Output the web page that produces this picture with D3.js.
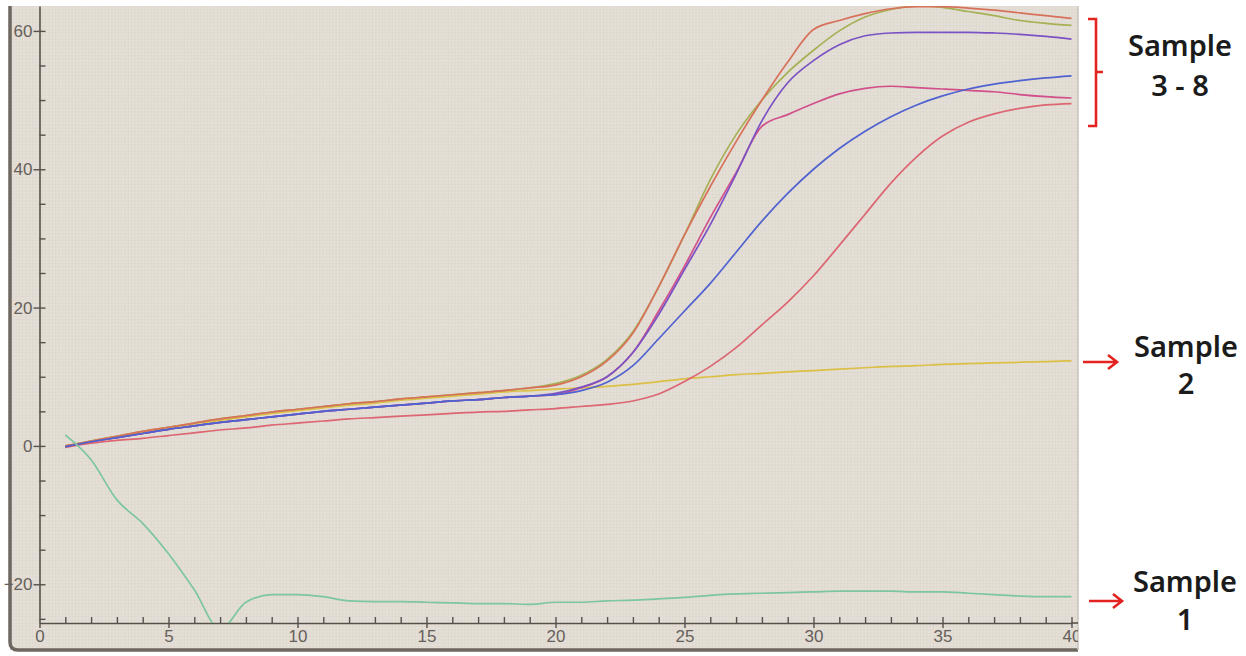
<!DOCTYPE html>
<html>
<head>
<meta charset="utf-8">
<script src="https://cdn.jsdelivr.net/npm/d3@7"></script>
<style>
  html, body { margin: 0; padding: 0; background: #ffffff; }
  svg { display: block; }
</style>
</head>
<body>
<svg id="chart" width="1246" height="656"></svg>
<script>
// ---------------- DATA ----------------
const cycles = d3.range(1, 41);
const yTickLabels = [-20, 0, 20, 40, 60];
const yMinorTicks = [-25, -20, -15, -10, -5, 0, 5, 10, 15, 20, 25, 30, 35, 40, 45, 50, 55, 60];
const xTickLabels = [0, 5, 10, 15, 20, 25, 30, 35, 40];
const xMinorTicks = d3.range(1, 41);

// Sample 1 (green, negative)
const sample1 = [1.6, -2.0, -7.8, -11.2, -15.6, -20.8, -26.5, -22.6, -21.5, -21.5,
  -21.8, -22.4, -22.5, -22.5, -22.6, -22.7, -22.8, -22.8, -22.9, -22.6,
  -22.6, -22.4, -22.3, -22.1, -21.9, -21.6, -21.4, -21.3, -21.2, -21.1,
  -21.0, -21.0, -21.0, -21.1, -21.1, -21.3, -21.5, -21.7, -21.8, -21.8];
// Sample 2 (yellow, weak linear)
const sample2 = [0, 0.7, 1.4, 2.0, 2.6, 3.2, 3.7, 4.2, 4.7, 5.1,
  5.5, 5.9, 6.2, 6.6, 6.9, 7.2, 7.5, 7.8, 8.0, 8.2,
  8.4, 8.6, 8.9, 9.3, 9.7, 10.0, 10.3, 10.5, 10.7, 10.9,
  11.1, 11.3, 11.5, 11.6, 11.8, 11.9, 12.0, 12.1, 12.2, 12.3];
// Samples 3 - 8
const sampleRed = [0, 0.7, 1.4, 2.1, 2.7, 3.3, 3.9, 4.4, 4.9, 5.3,
  5.7, 6.1, 6.4, 6.8, 7.1, 7.4, 7.7, 8.0, 8.4, 8.8,
  10.0, 12.3, 16.3, 23.0, 30.5, 37.5, 44.0, 50.0, 55.5, 60.2,
  61.5, 62.5, 63.2, 63.5, 63.5, 63.3, 63.0, 62.6, 62.2, 61.8];
const sampleOlive = [0, 0.7, 1.4, 2.1, 2.7, 3.3, 3.9, 4.4, 4.9, 5.3,
  5.7, 6.1, 6.4, 6.8, 7.1, 7.4, 7.7, 8.0, 8.4, 9.0,
  10.2, 12.5, 16.5, 23.0, 30.5, 38.5, 45.0, 50.0, 54.0, 57.2,
  60.0, 62.0, 63.1, 63.6, 63.4, 62.8, 62.2, 61.5, 61.1, 60.8];
const samplePurple = [-0.1, 0.6, 1.2, 1.8, 2.4, 2.9, 3.4, 3.8, 4.2, 4.6,
  5.0, 5.3, 5.6, 5.9, 6.2, 6.5, 6.7, 7.0, 7.2, 7.6,
  8.5, 10.0, 13.5, 19.0, 25.5, 32.0, 39.3, 47.0, 52.5, 55.7,
  58.0, 59.3, 59.7, 59.8, 59.8, 59.8, 59.7, 59.5, 59.2, 58.8];
const sampleMagenta = [-0.1, 0.6, 1.2, 1.8, 2.4, 2.9, 3.4, 3.8, 4.2, 4.6,
  5.0, 5.3, 5.6, 5.9, 6.2, 6.5, 6.7, 7.0, 7.2, 7.4,
  8.4, 10.0, 13.5, 19.5, 26.0, 33.0, 39.5, 46.2, 47.9, 49.5,
  50.9, 51.7, 52.0, 51.8, 51.6, 51.4, 51.2, 50.8, 50.5, 50.3];
const sampleBlue = [-0.1, 0.6, 1.2, 1.8, 2.4, 2.9, 3.4, 3.8, 4.2, 4.6,
  5.0, 5.3, 5.6, 5.9, 6.2, 6.5, 6.7, 7.0, 7.2, 7.4,
  8.0, 9.2, 11.6, 15.5, 19.5, 23.5, 28.0, 32.5, 36.5, 40.0,
  43.0, 45.5, 47.6, 49.3, 50.6, 51.6, 52.3, 52.8, 53.2, 53.5];
const sampleSalmon = [-0.2, 0.4, 0.8, 1.1, 1.5, 1.9, 2.3, 2.6, 3.0, 3.3,
  3.6, 3.9, 4.1, 4.3, 4.5, 4.7, 4.9, 5.0, 5.2, 5.4,
  5.7, 6.0, 6.5, 7.5, 9.3, 11.5, 14.2, 17.5, 20.8, 24.6,
  29.0, 33.5, 38.0, 41.8, 44.8, 46.8, 48.0, 48.8, 49.3, 49.5];

const seriesNames = ["Sample 2", "Salmon", "Magenta", "Purple", "Olive", "Red", "Blue", "Sample 1"];
const seriesValues = [sample2, sampleSalmon, sampleMagenta, samplePurple, sampleOlive, sampleRed, sampleBlue, sample1];
const seriesColors = ["#dcc046", "#dc6672", "#d2508a", "#7a52c4", "#a6b054", "#d8715a", "#4f62cf", "#7cc6a0"];

// ---------------- LAYOUT ----------------
const svg = d3.select("#chart");
const screen = { left: 10, top: 6, right: 1078, bottom: 650 };
const plot = { left: 39.5, top: 6, right: 1071.5, bottom: 623 };

const x = d3.scaleLinear().domain([0, 40]).range([plot.left, plot.right]);
const y = d3.scaleLinear().domain([-25.6, 63.6]).range([plot.bottom, plot.top]);

const defs = svg.append("defs");
defs.append("clipPath").attr("id", "screenClip")
  .append("rect").attr("x", 0).attr("y", screen.top)
  .attr("width", screen.right).attr("height", screen.bottom - screen.top);
defs.append("clipPath").attr("id", "plotClip")
  .append("rect").attr("x", plot.left).attr("y", plot.top)
  .attr("width", screen.right - plot.left).attr("height", plot.bottom - plot.top);

// LCD pixel texture
const pat = defs.append("pattern").attr("id", "lcd").attr("width", 3.3).attr("height", 3.3)
  .attr("patternUnits", "userSpaceOnUse");
pat.append("rect").attr("width", 3.3).attr("height", 3.3).attr("fill", "#e4dfd7");
pat.append("path").attr("d", "M3.3,0V3.3M0,3.3H3.3").attr("stroke", "#d4cdc4").attr("stroke-width", 0.6).attr("fill", "none");

// screen background
svg.append("rect")
  .attr("x", screen.left).attr("y", screen.top)
  .attr("width", screen.right - screen.left).attr("height", screen.bottom - screen.top)
  .attr("fill", "url(#lcd)");

// screen bezel (left and bottom)
svg.append("path")
  .attr("d", `M${screen.left},${screen.top} V${screen.bottom - 8} Q${screen.left},${screen.bottom} ${screen.left + 8},${screen.bottom} H${screen.right}`)
  .attr("fill", "none").attr("stroke", "#6e6760").attr("stroke-width", 3.5);
svg.append("line")
  .attr("x1", screen.right).attr("x2", screen.right).attr("y1", screen.top).attr("y2", screen.bottom)
  .attr("stroke", "#c9c2ba").attr("stroke-width", 1.5);

const g = svg.append("g").attr("clip-path", "url(#screenClip)");

// ---------------- AXES ----------------
const axisColor = "#57514b";
const labelFont = "'Liberation Sans', Arial, sans-serif";
const labelColor = "#66605a";

// y minor (inside) ticks
g.append("g").attr("transform", `translate(${plot.left},0)`)
  .call(d3.axisRight(y).tickValues(yMinorTicks).tickSize(6).tickFormat(""))
  .call(s => s.select(".domain").remove())
  .call(s => s.selectAll("line").attr("stroke", axisColor).attr("stroke-width", 1.4));
// y major ticks + labels
g.append("g").attr("transform", `translate(${plot.left},0)`)
  .call(d3.axisLeft(y).tickValues(yTickLabels).tickSizeInner(6).tickSizeOuter(0).tickPadding(1))
  .call(s => s.select(".domain").attr("stroke", axisColor).attr("stroke-width", 1.6))
  .call(s => s.selectAll("line").attr("stroke", axisColor).attr("stroke-width", 1.4))
  .call(s => s.selectAll("text").attr("fill", labelColor).attr("font-size", 17).attr("font-family", labelFont));

// x minor (inside) ticks
g.append("g").attr("transform", `translate(0,${plot.bottom})`)
  .call(d3.axisTop(x).tickValues(xMinorTicks).tickSize(6).tickFormat(""))
  .call(s => s.select(".domain").remove())
  .call(s => s.selectAll("line").attr("stroke", axisColor).attr("stroke-width", 1.4));
// x major ticks + labels
g.append("g").attr("transform", `translate(0,${plot.bottom})`)
  .call(d3.axisBottom(x).tickValues(xTickLabels).tickSizeInner(5).tickSizeOuter(0).tickPadding(2))
  .call(s => s.select(".domain").attr("stroke", axisColor).attr("stroke-width", 1.6))
  .call(s => s.selectAll("line").attr("stroke", axisColor).attr("stroke-width", 1.4))
  .call(s => s.selectAll("text").attr("fill", labelColor).attr("font-size", 17).attr("font-family", labelFont));
// extend x axis line to the screen edge
g.append("line")
  .attr("x1", x(40)).attr("x2", screen.right).attr("y1", plot.bottom).attr("y2", plot.bottom)
  .attr("stroke", axisColor).attr("stroke-width", 1.6);

// ---------------- LINES ----------------
const line = d3.line().x((d, i) => x(cycles[i])).y(d => y(d)).curve(d3.curveMonotoneX);
const lines = svg.append("g").attr("clip-path", "url(#plotClip)");
seriesValues.forEach((vals, k) => {
  lines.append("path")
    .datum(vals)
    .attr("d", line)
    .attr("fill", "none")
    .attr("stroke", seriesColors[k])
    .attr("stroke-width", 1.7)
    .attr("stroke-linejoin", "round")
    .attr("data-name", seriesNames[k]);
});

// ---------------- ANNOTATIONS ----------------
const red = "#e3231f";
const annFont = "'Noto Sans', 'Open Sans', sans-serif";
const ann = svg.append("g");

// bracket for samples 3-8
ann.append("path")
  .attr("d", "M1088,19 H1096 V126 H1088 M1096,72 H1103")
  .attr("fill", "none").attr("stroke", red).attr("stroke-width", 2.6);

function arrow(x1, x2, yy) {
  ann.append("path")
    .attr("d", `M${x1},${yy} H${x2} M${x2 - 9},${yy - 7} L${x2},${yy} L${x2 - 9},${yy + 7}`)
    .attr("fill", "none").attr("stroke", red).attr("stroke-width", 2.6)
    .attr("stroke-linejoin", "miter");
}
arrow(1083, 1117, 362);
arrow(1089, 1122, 601);

function label(cx, lines, yCenters) {
  lines.forEach((t, i) => {
    ann.append("text")
      .attr("x", cx).attr("y", yCenters[i])
      .attr("text-anchor", "middle").attr("dominant-baseline", "central")
      .attr("font-family", annFont).attr("font-weight", 600).attr("font-size", 29)
      .attr("fill", "#1b1b1b")
      .text(t);
  });
}
label(1180, ["Sample", "3 - 8"], [44, 84]);
label(1186, ["Sample", "2"], [345, 382]);
label(1185, ["Sample", "1"], [580, 618]);
</script>
</body>
</html>
